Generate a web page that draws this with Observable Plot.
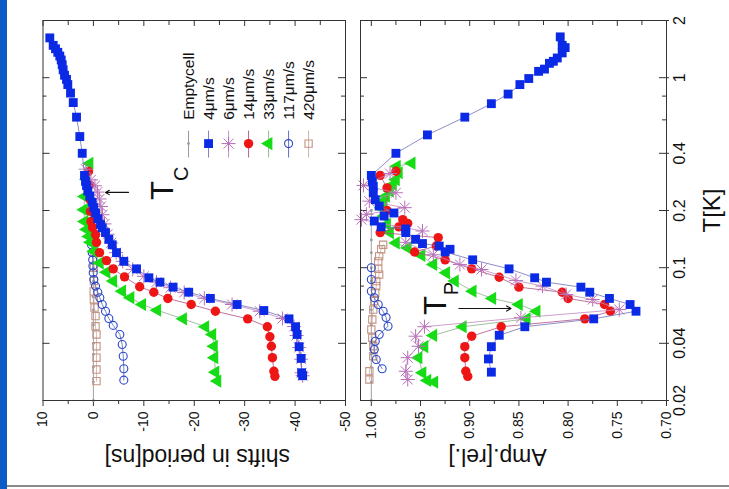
<!DOCTYPE html>
<html><head><meta charset="utf-8">
<script src="https://cdn.jsdelivr.net/npm/d3@7"></script>
<script src="https://cdn.jsdelivr.net/npm/@observablehq/plot@0.6"></script>
<style>
body{margin:0;background:#fff;width:729px;height:489px;overflow:hidden;position:relative;font-family:"Liberation Sans",Arial,sans-serif}
#bar{position:absolute;left:0;top:0;width:7px;height:489px;background:#0b5cc4}
#bline{position:absolute;left:7px;top:485px;width:722px;height:2px;background:#8a8a8a}
#rot{position:absolute;left:0;top:0;width:489px;height:729px;transform-origin:0 0;transform:translate(0px,489px) rotate(-90deg)}
#rot svg{display:block}
</style></head><body>
<div id="bar"></div><div id="bline"></div>
<div id="rot"></div>
<script>
// ---------- tick labels ----------
const Tmajor = [0.02, 0.04, 0.1, 0.2, 0.4, 1, 2];
const Tlabels = ["0.02", "0.04", "0.1", "0.2", "0.4", "1", "2"];
const Tminor = [0.06, 0.08, 0.6, 0.8];
const shiftMajor = [10, 0, -10, -20, -30, -40, -50];
const shiftMinor = [5, -5, -15, -25, -35, -45];
const ampMajor = [1.00, 0.95, 0.90, 0.85, 0.80, 0.75, 0.70];
const ampMinor = [0.975, 0.925, 0.875, 0.825, 0.775, 0.725];

// ---------- series names ----------
const seriesNames = ["Emptycell", "4μm/s", "6μm/s", "14μm/s", "33μm/s", "117μm/s", "420μm/s"];

// ---------- top panel: shifts in period [ns] ----------
const T_emptyL = [0.2, 0.17, 0.14, 0.12, 0.1, 0.085, 0.07, 0.06, 0.05, 0.04, 0.035, 0.03, 0.025, 0.02];
const shift_empty = [0, 0, 0, 0, 0, 0, 0, 0, 0, 0, 0, 0, 0, 0];

const T_4L = [1.62,1.48,1.42,1.36,1.30,1.24,1.17,1.10,1.03,0.98,0.92,0.83,0.74,0.62,0.49,0.40,0.306,0.285,0.271,0.253,0.238,0.221,0.207,0.194,0.181,0.169,0.162,0.153,0.141,0.132,0.120,0.108,0.0986,0.0885,0.0839,0.079,0.0743,0.0689,0.064,0.0595,0.0538,0.0489,0.0445,0.0384,0.0333,0.028,0.027];
const shift_4 = [8.65,7.98,7.52,7.06,6.67,6.39,6.19,6.0,5.73,5.34,5.08,4.54,4.0,3.35,2.70,2.22,1.77,1.57,1.37,1.11,0.71,0.24,-0.08,-0.42,-0.87,-1.41,-1.75,-2.40,-3.06,-3.73,-4.58,-6.03,-8.55,-11.0,-13.2,-15.8,-18.9,-23.2,-28.5,-33.8,-38.8,-40.1,-40.4,-40.8,-41.2,-41.3,-41.5];

const T_6L = [0.33,0.29,0.27,0.25,0.23,0.21,0.19,0.17,0.15,0.135,0.12,0.108,0.098,0.09,0.084,0.0785,0.074,0.069,0.064,0.059,0.054,0.049,0.044,0.038,0.033,0.028,0.027];
const shift_6 = [1.5,0.5,-0.3,-0.8,-1.2,-1.5,-1.8,-2.2,-2.8,-3.5,-4.5,-5.8,-7.8,-10,-12.5,-15.3,-18,-22,-27.5,-33,-37.5,-39.8,-40.3,-40.8,-41.2,-41.3,-41.5];

const T_14L = [0.321,0.274,0.228,0.198,0.175,0.163,0.149,0.136,0.120,0.109,0.0986,0.0895,0.0794,0.0743,0.0689,0.064,0.059,0.0538,0.0489,0.0433,0.0386,0.0336,0.0285,0.0268];
const shift_14 = [0.97,0.77,0.67,0.58,0.48,0.18,-0.42,-0.61,-1.21,-2.6,-3.93,-6.17,-9.18,-11.98,-14.76,-19.4,-24.2,-30.6,-34.5,-35.0,-35.3,-35.5,-35.8,-36.0];

const T_33L = [0.354,0.291,0.237,0.202,0.175,0.159,0.146,0.136,0.122,0.106,0.0947,0.085,0.0752,0.0695,0.064,0.0597,0.0538,0.0489,0.0445,0.0386,0.0336,0.0282,0.0253];
const shift_33 = [0.77,1.37,1.77,1.87,1.77,1.37,0.91,0.58,-0.08,-1.27,-2.6,-3.93,-5.71,-7.36,-9.68,-12.66,-17.8,-22.2,-23.6,-23.9,-24.0,-24.2,-24.6];

const T_117L = [0.149,0.132,0.120,0.110,0.102,0.094,0.0867,0.080,0.0743,0.0695,0.064,0.059,0.054,0.0497,0.0445,0.0394,0.0342,0.0294,0.0256];
const shift_117 = [0.58,0.38,0.24,0.15,0.1,0.04,-0.08,-0.42,-0.87,-1.27,-1.75,-2.40,-3.06,-3.93,-5.24,-5.71,-5.91,-6.03,-6.03];

const T_420L = [0.2,0.15,0.12,0.1,0.085,0.075,0.068,0.0617,0.0556,0.0492,0.0445,0.0386,0.0336,0.0291,0.0253];
const shift_420 = [0.1,0,-0.1,-0.1,-0.1,-0.05,-0.08,-0.22,-0.42,-0.42,-0.61,-0.61,-0.61,-0.61,-0.61];

// ---------- bottom panel: Amp.[rel.] ----------
const T_emptyR = [0.2, 0.17, 0.14, 0.12, 0.1, 0.085, 0.07, 0.06, 0.05, 0.04, 0.035, 0.03, 0.025, 0.02];
const amp_empty = [1, 1, 1, 1, 1, 1, 1, 1, 1, 1, 1, 1, 1, 1];

const T_4R = [1.64,1.48,1.44,1.35,1.27,1.22,1.19,1.11,1.08,0.99,0.92,0.82,0.73,0.62,0.50,0.40,0.306,0.285,0.268,0.248,0.228,0.211,0.194,0.187,0.176,0.164,0.160,0.153,0.141,0.134,0.130,0.125,0.121,0.110,0.0986,0.0885,0.0839,0.079,0.0743,0.0689,0.064,0.059,0.0538,0.0489,0.0441,0.0384,0.0331,0.0282];
const amp_4 = [0.808,0.806,0.803,0.806,0.811,0.815,0.819,0.824,0.830,0.840,0.849,0.861,0.878,0.905,0.943,0.975,1.000,0.999,0.998,0.998,0.996,0.992,0.977,0.987,0.997,0.990,0.965,0.965,0.955,0.948,0.931,0.920,0.925,0.897,0.860,0.834,0.822,0.787,0.778,0.758,0.737,0.731,0.774,0.844,0.870,0.878,0.881,0.878];

const T_6R = [0.313,0.271,0.248,0.224,0.207,0.191,0.179,0.156,0.136,0.117,0.104,0.0978,0.0857,0.080,0.0723,0.068,0.0602,0.0545,0.0489,0.0436,0.0386,0.0336,0.0285,0.0258];
const amp_6 = [0.981,1.008,0.975,1.002,0.966,1.005,1.010,0.948,0.965,0.937,0.910,0.888,0.853,0.826,0.802,0.775,0.748,0.848,0.946,0.955,0.952,0.963,0.965,0.963];

const T_14R = [0.322,0.306,0.263,0.200,0.179,0.171,0.164,0.153,0.144,0.130,0.121,0.110,0.0986,0.0891,0.079,0.0743,0.0689,0.064,0.059,0.0538,0.0489,0.0436,0.0384,0.0336,0.0285,0.0268];
const amp_14 = [0.975,0.991,0.984,0.984,0.968,0.963,0.972,0.991,0.932,0.934,0.956,0.925,0.898,0.870,0.850,0.806,0.800,0.763,0.757,0.783,0.868,0.898,0.905,0.905,0.904,0.902];

const T_33R = [0.355,0.342,0.316,0.291,0.274,0.253,0.238,0.224,0.207,0.187,0.169,0.153,0.135,0.127,0.116,0.104,0.094,0.085,0.0752,0.0689,0.064,0.059,0.0538,0.0489,0.044,0.0384,0.0336,0.028,0.0255,0.025];
const amp_33 = [0.959,0.974,0.972,0.975,0.978,0.981,0.985,0.988,0.990,0.987,0.984,0.981,0.975,0.963,0.949,0.937,0.924,0.915,0.897,0.877,0.850,0.832,0.842,0.907,0.937,0.946,0.952,0.948,0.943,0.936];

const T_117R = [0.1,0.0867,0.0752,0.0695,0.064,0.059,0.0547,0.0492,0.0445,0.041,0.0371,0.0329,0.0294];
const amp_117 = [1.0,1.0,1.000,0.997,0.993,0.988,0.985,0.983,0.992,0.996,0.997,0.995,0.989];

const T_420R = [0.132,0.125,0.115,0.108,0.0986,0.092,0.085,0.080,0.0738,0.0667,0.0602,0.0534,0.0473,0.0428,0.0386,0.0342,0.0285,0.0258];
const amp_420 = [0.988,0.990,0.992,0.993,0.993,0.992,0.995,0.995,0.996,0.997,0.998,0.999,1.000,0.999,0.998,0.998,1.002,1.002];

// ---------- styling ----------
const FONT = '"Liberation Sans", Arial, Helvetica, sans-serif';
const styles = [
  {kind: "small",  color: "#9a9a9a", line: "#8a8a8a"},
  {kind: "square", color: "#0a2ae6", line: "#7070b8"},
  {kind: "star",   color: "#b870b8", line: "#c088c0"},
  {kind: "circle", color: "#ee1515", line: "#b05088"},
  {kind: "tri",    color: "#16dc16", line: "#88b088"},
  {kind: "ocircle",color: "#2a46c8", line: "#5060c0"},
  {kind: "osquare",color: "#c49484", line: "#c8aa9c"}
];

function dotMarks(st, data, x, y) {
  switch (st.kind) {
    case "small": return [Plot.dot(data, {x, y, r: 1.4, fill: st.color})];
    case "square": return [Plot.dot(data, {x, y, symbol: "square", r: 5, fill: st.color})];
    case "circle": return [Plot.dot(data, {x, y, symbol: "circle", r: 4.7, fill: st.color})];
    case "tri": return [Plot.dot(data, {x, y, symbol: "triangle", r: 4.9, fill: st.color})];
    case "ocircle": return [Plot.dot(data, {x, y, symbol: "circle", r: 4, fill: "none", stroke: st.color, strokeWidth: 1.1})];
    case "osquare": return [Plot.dot(data, {x, y, symbol: "square", r: 4.1, fill: "none", stroke: st.color, strokeWidth: 1.1})];
    case "star": return [
      Plot.dot(data, {x, y, symbol: "plus", r: 4.6, stroke: st.color, strokeWidth: 1}),
      Plot.dot(data, {x, y, symbol: "times", r: 4.6, stroke: st.color, strokeWidth: 1})
    ];
  }
}
function seriesMarks(st, T, V) {
  const idx = d3.range(T.length);
  const x = i => T[i], y = i => V[i];
  return [Plot.line(idx, {x, y, stroke: st.line, strokeWidth: 0.8}), ...dotMarks(st, idx, x, y)];
}

const W = 489, ML = 88, MR = 21;
function panel({height, mt, mb, ydomain, ymajor, yminor, yfmt, marks}) {
  const innerH = height - mt - mb, innerW = W - ML - MR;
  return Plot.plot({
    width: W, height, marginLeft: ML, marginRight: MR, marginTop: mt, marginBottom: mb,
    style: {fontFamily: FONT, fontSize: "14px", color: "#111", background: "transparent", overflow: "visible"},
    x: {type: "log", domain: [0.02, 2], axis: null},
    y: {domain: ydomain, axis: null},
    marks: [
      Plot.tickX(Tmajor, {x: d => d, insetBottom: innerH - 7, stroke: "#333"}),
      Plot.tickX(Tmajor, {x: d => d, insetTop: innerH - 7, stroke: "#333"}),
      Plot.tickX(Tminor, {x: d => d, insetBottom: innerH - 4, stroke: "#333"}),
      Plot.tickX(Tminor, {x: d => d, insetTop: innerH - 4, stroke: "#333"}),
      Plot.tickY(ymajor, {y: d => d, insetLeft: innerW - 5, stroke: "#333"}),
      Plot.tickY(yminor, {y: d => d, insetLeft: innerW - 4, stroke: "#333"}),
      Plot.axisY({anchor: "left", ticks: ymajor, tickSize: 5, tickPadding: 6, tickFormat: yfmt, fontSize: 14, label: null, stroke: "#333"}),
      Plot.axisY({anchor: "left", ticks: yminor, tickSize: 3, tickFormat: () => "", label: null, stroke: "#333"}),
      ...marks,
      Plot.frame({stroke: "#333", strokeWidth: 1})
    ]
  });
}

const topSeries = [[T_emptyL, shift_empty], [T_4L, shift_4], [T_6L, shift_6], [T_14L, shift_14], [T_33L, shift_33], [T_117L, shift_117], [T_420L, shift_420]];
const botSeries = [[T_emptyR, amp_empty], [T_4R, amp_4], [T_6R, amp_6], [T_14R, amp_14], [T_33R, amp_33], [T_117R, amp_117], [T_420R, amp_420]];
const drawOrder = [0, 6, 5, 4, 3, 2, 1];

// legend (placed in data coordinates of the top panel)
const legendMarks = [];
seriesNames.forEach((name, i) => {
  const st = styles[i];
  const ly = -18.87 - 3.968 * i;
  legendMarks.push(Plot.link([0], {x1: () => 0.38, x2: () => 0.527, y1: () => ly, y2: () => ly, stroke: st.line, strokeWidth: 0.9}));
  legendMarks.push(...dotMarks(st, [0], () => 0.45, () => ly));
  legendMarks.push(Plot.text([name], {x: () => 0.6, y: () => ly, text: d => d, textAnchor: "start", lineAnchor: "middle", fontSize: 15.5, fill: "#111"}));
});

const shiftPlot = panel({
  height: 352, mt: 42.5, mb: 7, ydomain: [-50, 10], ymajor: shiftMajor, yminor: shiftMinor,
  yfmt: d => String(d),
  marks: [
    ...drawOrder.flatMap(k => seriesMarks(styles[k], topSeries[k][0], topSeries[k][1])),
    ...legendMarks,
    Plot.arrow([0], {x1: () => 0.249, y1: () => -6.96, x2: () => 0.249, y2: () => -2.4, stroke: "#111", strokeWidth: 1.1, headLength: 6}),
    Plot.text(["T"], {x: () => 0.255, y: () => -13.9, text: d => d, fontSize: 31, fill: "#111", lineAnchor: "middle"}),
    Plot.text(["C"], {x: () => 0.312, y: () => -17.4, text: d => d, fontSize: 20, fill: "#111", lineAnchor: "middle"}),
    Plot.text(["shifts in period[ns]"], {text: d => d, frameAnchor: "left", textAnchor: "middle", lineAnchor: "middle", dx: -56, dy: 3, rotate: -90, fontSize: 23, fill: "#111"})
  ]
});

const ampPlot = panel({
  height: 377, mt: 8, mb: 63, ydomain: [0.70, 1.011], ymajor: ampMajor, yminor: ampMinor,
  yfmt: d3.format(".2f"),
  marks: [
    ...drawOrder.flatMap(k => seriesMarks(styles[k], botSeries[k][0], botSeries[k][1])),
    Plot.axisX({anchor: "bottom", ticks: Tmajor, tickFormat: d => Tlabels[Tmajor.indexOf(d)], tickSize: 3, tickPadding: 4, fontSize: 16, label: null, stroke: "#333"}),
    Plot.arrow([0], {x1: () => 0.061, y1: () => 0.911, x2: () => 0.061, y2: () => 0.858, stroke: "#111", strokeWidth: 1.1, headLength: 7}),
    Plot.text(["T"], {x: () => 0.0632, y: () => 0.934, text: d => d, fontSize: 31, fill: "#111", lineAnchor: "middle"}),
    Plot.text(["P"], {x: () => 0.0777, y: () => 0.918, text: d => d, fontSize: 20, fill: "#111", lineAnchor: "middle"}),
    Plot.text(["Amp.[rel.]"], {text: d => d, frameAnchor: "left", textAnchor: "middle", lineAnchor: "middle", dx: -56, dy: -16, rotate: -90, fontSize: 23, fill: "#111"}),
    Plot.text(["T[K]"], {text: d => d, frameAnchor: "bottom", textAnchor: "middle", dy: 46, fontSize: 24, fill: "#111", lineAnchor: "middle"})
  ]
});

const rot = document.getElementById("rot");
rot.appendChild(shiftPlot);
rot.appendChild(ampPlot);
</script>
</body></html>
